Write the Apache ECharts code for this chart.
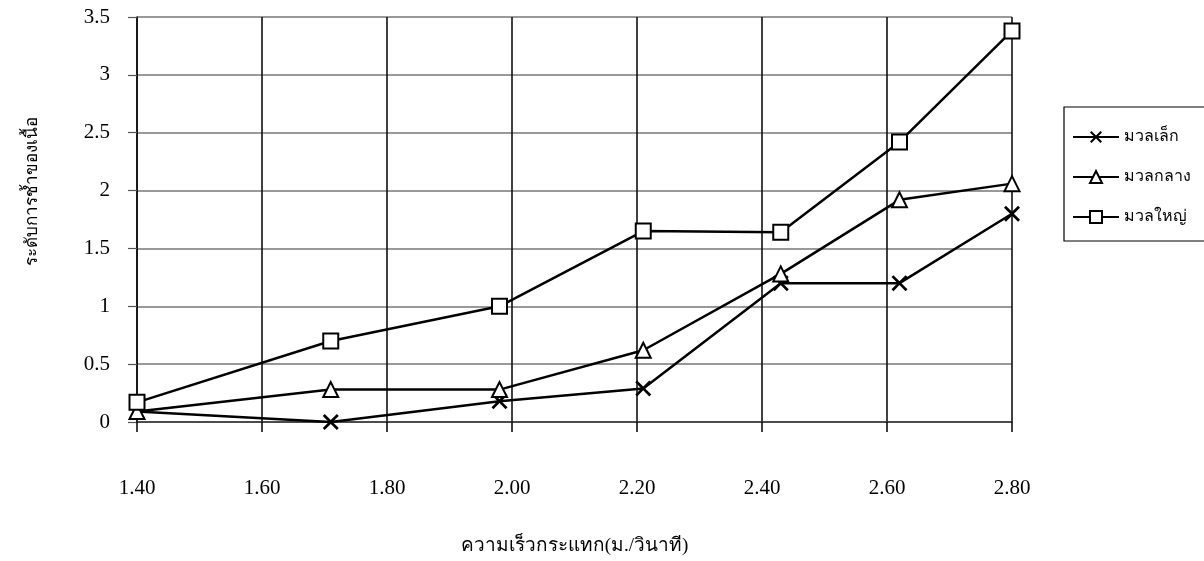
<!DOCTYPE html>
<html>
<head>
<meta charset="utf-8">
<script src="https://cdn.jsdelivr.net/npm/echarts@6/dist/echarts.min.js"></script>
<style>html,body{margin:0;padding:0;background:#fff}#c{width:1204px;height:561px}</style>
</head>
<body>
<div id="c"></div>
<script>
// Data
const speeds = [1.40, 1.71, 1.98, 2.21, 2.43, 2.62, 2.80];
const smallMass = [0.09, 0.0, 0.18, 0.29, 1.20, 1.20, 1.80];   // มวลเล็ก
const mediumMass = [0.09, 0.28, 0.28, 0.62, 1.28, 1.92, 2.06]; // มวลกลาง
const largeMass = [0.17, 0.70, 1.00, 1.65, 1.64, 2.42, 3.38];  // มวลใหญ่
const seriesNames = ['มวลเล็ก', 'มวลกลาง', 'มวลใหญ่'];
const xTicks = [1.40, 1.60, 1.80, 2.00, 2.20, 2.40, 2.60, 2.80];
const yTicks = [0, 0.5, 1, 1.5, 2, 2.5, 3, 3.5];
const xTitle = 'ความเร็วกระแทก(ม./วินาที)';
const yTitle = 'ระดับการช้ำของเนื้อ';

const serif = '"Liberation Serif", "DejaVu Serif", serif';
const xPath = 'path://M0,1.2L1.2,0L5,3.8L8.8,0L10,1.2L6.2,5L10,8.8L8.8,10L5,6.2L1.2,10L0,8.8L3.8,5Z';

function pairs(vals) { return speeds.map((s, i) => [s, vals[i]]); }

const chart = echarts.init(document.getElementById('c'), null, {renderer: 'canvas'});
const lineStyle = {color: '#000', width: 2.5};
chart.setOption({
  animation: false,
  backgroundColor: '#fff',
  grid: {left: 137, right: 192, top: 17, bottom: 131, containLabel: false},
  graphic: [{
    type: 'text', x: 33, y: 191, rotation: Math.PI / 2,
    style: {text: yTitle, fontFamily: serif, fontSize: 17, fill: '#000',
      align: 'center', verticalAlign: 'middle'}
  }],
  legend: {
    orient: 'vertical',
    left: 1064, top: 107,
    width: 160,
    padding: [22, 60, 16, 8],
    itemGap: 24,
    itemWidth: 46, itemHeight: 15,
    borderColor: '#000', borderWidth: 1.2,
    textStyle: {fontFamily: serif, fontSize: 16, color: '#000'},
    data: seriesNames
  },
  xAxis: {
    type: 'value',
    min: xTicks[0], max: xTicks[xTicks.length - 1], interval: 0.2,
    name: xTitle, nameLocation: 'middle', nameGap: 115,
    nameTextStyle: {fontFamily: serif, fontSize: 19, color: '#000'},
    axisLine: {show: true, lineStyle: {color: '#333', width: 1.5}},
    axisTick: {show: true, length: 10, inside: false, lineStyle: {color: '#000', width: 1.5}},
    axisLabel: {margin: 56, fontFamily: serif, fontSize: 21, color: '#000',
      formatter: v => v.toFixed(2)},
    splitLine: {show: true, lineStyle: {color: '#111', width: 1.6}}
  },
  yAxis: {
    type: 'value',
    min: yTicks[0], max: yTicks[yTicks.length - 1], interval: 0.5,
    axisLine: {show: true, lineStyle: {color: '#111', width: 1.6}},
    axisTick: {show: true, length: 9, lineStyle: {color: '#555', width: 1.2}},
    axisLabel: {margin: 27, fontFamily: serif, fontSize: 21, color: '#000',
      formatter: v => String(v)},
    splitLine: {show: true, lineStyle: {color: '#777', width: 1.6}}
  },
  series: [
    {name: seriesNames[0], type: 'line', data: pairs(smallMass), symbol: xPath, symbolSize: 16,
     itemStyle: {color: '#000', borderColor: '#000', borderWidth: 0}, lineStyle: lineStyle, z: 3},
    {name: seriesNames[1], type: 'line', data: pairs(mediumMass), symbol: 'triangle', symbolSize: 15,
     itemStyle: {color: '#fff', borderColor: '#000', borderWidth: 2}, lineStyle: lineStyle, z: 4},
    {name: seriesNames[2], type: 'line', data: pairs(largeMass), symbol: 'rect', symbolSize: 15,
     itemStyle: {color: '#fff', borderColor: '#000', borderWidth: 2}, lineStyle: lineStyle, z: 5}
  ]
});
</script>
</body>
</html>
